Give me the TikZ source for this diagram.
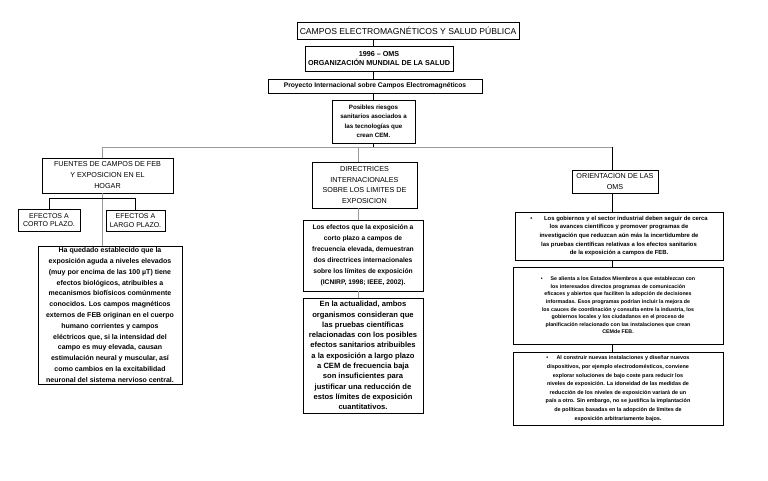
\documentclass[tikz,border=0pt]{standalone}
\usepackage{fontspec}
\setmainfont{Liberation Sans}
\usetikzlibrary{positioning}
\tikzstyle{caja} = [draw, line width=0.8pt, fill=white, align=center, inner sep=0pt]
\tikzstyle{linea} = [line width=0.6pt]
\tikzstyle{gris} = [line width=0.6pt, black!40]

\begin{document}
\begin{tikzpicture}[x=1pt, y=-1pt]
\useasboundingbox (0,0) rectangle (768,481);

% 上部标题链
\node[caja, minimum width=222pt, minimum height=17pt, font=\fontsize{8.6}{10}\selectfont] (titulo) at (408,30.5) {CAMPOS ELECTROMAGNÉTICOS Y SALUD PÚBLICA};
\node[caja, minimum width=148pt, minimum height=25pt, font=\bfseries\fontsize{7.2}{9}\selectfont] (oms) at (379,58.5) {1996 – OMS\\ORGANIZACIÓN MUNDIAL DE LA SALUD};
\node[caja, minimum width=214pt, minimum height=14pt, font=\bfseries\fontsize{6.7}{7}\selectfont] (proyecto) at (375,86) {Proyecto Internacional sobre Campos Electromagnéticos};
\node[caja, minimum width=83pt, minimum height=43pt, font=\bfseries\fontsize{6.2}{9.5}\selectfont] (posibles) at (373.5,121.5) {Posibles riesgos\\sanitarios asociados a\\las tecnologías que\\crean CEM.};

% 三个分支
\node[caja, minimum width=131pt, minimum height=35pt, font=\fontsize{7.2}{11}\selectfont] (fuentes) at (107.5,175.5) {FUENTES DE CAMPOS DE FEB\\Y EXPOSICION EN EL\\HOGAR};
\node[caja, minimum width=105pt, minimum height=46pt, font=\fontsize{7.2}{10.5}\selectfont] (directrices) at (364.5,185) {DIRECTRICES\\INTERNACIONALES\\SOBRE LOS LIMITES DE\\EXPOSICION};
\node[caja, minimum width=86pt, minimum height=23pt, font=\fontsize{7.2}{11}\selectfont] (orienta) at (615,181.5) {ORIENTACION DE LAS\\OMS};

% 左侧
\node[caja, minimum width=62pt, minimum height=22pt, font=\fontsize{7}{8.8}\selectfont] (corto) at (49,220) {EFECTOS A\\CORTO PLAZO.};
\node[caja, minimum width=59pt, minimum height=21pt, font=\fontsize{7}{8.8}\selectfont] (largo) at (135.5,220.5) {EFECTOS A\\LARGO PLAZO.};
\node[caja, line width=1pt, minimum width=144pt, minimum height=138pt, font=\bfseries\fontsize{7}{10.8}\selectfont] (grande) at (110,315) {Ha quedado establecido que la\\exposición aguda a niveles elevados\\(muy por encima de las 100 µT) tiene\\efectos biológicos, atribuibles a\\mecanismos biofísicos comúnmente\\conocidos. Los campos magnéticos\\externos de FEB originan en el cuerpo\\humano corrientes y campos\\eléctricos que, si la intensidad del\\campo es muy elevada, causan\\estimulación neural y muscular, así\\como cambios en la excitabilidad\\neuronal del sistema nervioso central.};

% 中间
\node[caja, minimum width=120pt, minimum height=71pt, font=\bfseries\fontsize{6.7}{11}\selectfont] (efectos) at (363,255.5) {Los efectos que la exposición a\\corto plazo a campos de\\frecuencia elevada, demuestran\\dos directrices internacionales\\sobre los límites de exposición\\(ICNIRP, 1998; IEEE, 2002).};
\node[caja, minimum width=120pt, minimum height=115pt, font=\bfseries\fontsize{7.6}{10.3}\selectfont] (actualidad) at (363,355.5) {En la actualidad, ambos\\organismos consideran que\\las pruebas científicas\\relacionadas con los posibles\\efectos sanitarios atribuibles\\a la exposición a largo plazo\\a CEM de frecuencia baja\\son insuficientes para\\justificar una reducción de\\estos límites de exposición\\cuantitativos.};

% 右侧
\node[caja, minimum width=208pt, minimum height=48pt, font=\bfseries\fontsize{5.9}{8.7}\selectfont] (punto1) at (619,236) {•\hspace{2em}Los gobiernos y el sector industrial deben seguir de cerca\\los avances científicos y promover programas de\\investigación que reduzcan aún más la incertidumbre de\\las pruebas científicas relativas a los efectos sanitarios\\de la exposición a campos de FEB.};
\node[caja, minimum width=210pt, minimum height=77pt, font=\bfseries\fontsize{5.3}{7.6}\selectfont] (punto2) at (618,305.5) {•\hspace{1.5em}Se alienta a los Estados Miembros a que establezcan con\\los interesados directos programas de comunicación\\eficaces y abiertos que faciliten la adopción de decisiones\\informadas. Esos programas podrían incluir la mejora de\\los cauces de coordinación y consulta entre la industria, los\\gobiernos locales y los ciudadanos en el proceso de\\planificación relacionado con las instalaciones que crean\\CEMde FEB.};
\node[caja, minimum width=210pt, minimum height=73pt, font=\bfseries\fontsize{5.45}{8.6}\selectfont] (punto3) at (618,388.5) {•\hspace{1.5em}Al construir nuevas instalaciones y diseñar nuevos\\dispositivos, por ejemplo electrodomésticos, conviene\\explorar soluciones de bajo coste para reducir los\\niveles de exposición. La idoneidad de las medidas de\\reducción de los niveles de exposición variará de un\\país a otro. Sin embargo, no se justifica la implantación\\de políticas basadas en la adopción de límites de\\exposición arbitrariamente bajos.};

% 连接线
\coordinate (eje) at (373,0);
\coordinate (izq) at (102,147);
\coordinate (cen) at (358,147);
\coordinate (der) at (612,147);
\coordinate (llave) at (0,198);
\draw[linea] (titulo.south -| eje) -- (oms.north -| eje);
\draw[linea] (oms.south -| eje) -- (proyecto.north -| eje);
\draw[linea] (proyecto.south -| eje) -- (posibles.north -| eje);
\draw[linea] (posibles.south -| eje) -- (izq -| eje);
\draw[gris] (izq) -- (der);
\draw[gris] (izq) -- (izq |- fuentes.north);
\draw[gris] (fuentes.south -| izq) -- (izq |- grande.north);
\draw[linea] (corto.north) -- (corto.north |- llave) -- (largo.north |- llave) -- (largo.north);
\draw[gris] (cen) -- (cen |- directrices.north);
\draw[gris] (directrices.south -| cen) -- (cen |- efectos.north);
\draw[gris] (efectos.south -| cen) -- (cen |- actualidad.north);
\draw[linea] (der) -- (der |- orienta.north);
\draw[linea] (orienta.south -| der) -- (der |- punto1.north);
\draw[linea] (punto1.south -| der) -- (der |- punto2.north);
\draw[linea] (punto2.south -| der) -- (der |- punto3.north);

\end{tikzpicture}
\end{document}
